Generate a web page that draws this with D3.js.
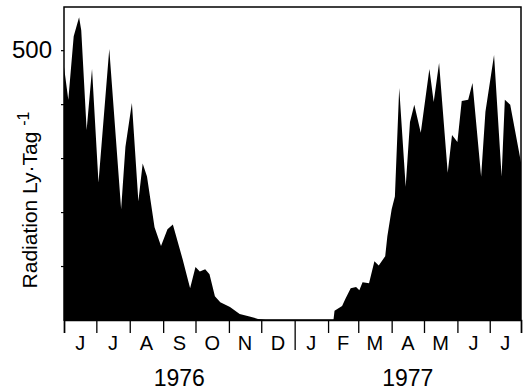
<!DOCTYPE html>
<html>
<head>
<meta charset="utf-8">
<script src="https://cdn.jsdelivr.net/npm/d3@7"></script>
<style>
  body { margin: 0; background: #fff; }
  text { font-family: "Liberation Sans", Arial, sans-serif; fill: #000; }
</style>
</head>
<body>
<div id="chart"></div>
<script>
// daily radiation (Ly / Tag)
const dates = [
  "1976-06-01", "1976-06-05", "1976-06-10", "1976-06-15", "1976-06-17", "1976-06-22",
  "1976-06-27", "1976-07-03", "1976-07-13", "1976-07-24", "1976-07-28", "1976-08-03",
  "1976-08-09", "1976-08-13", "1976-08-17", "1976-08-24", "1976-08-30", "1976-09-05",
  "1976-09-10", "1976-09-19", "1976-09-26", "1976-10-01", "1976-10-05", "1976-10-10",
  "1976-10-14", "1976-10-19", "1976-10-24", "1976-11-02", "1976-11-11", "1976-11-21",
  "1976-11-28", "1976-12-05", "1977-02-06", "1977-02-07", "1977-02-14", "1977-02-17",
  "1977-02-22", "1977-02-27", "1977-03-02", "1977-03-05", "1977-03-11", "1977-03-16",
  "1977-03-20", "1977-03-26", "1977-03-28", "1977-04-01", "1977-04-04", "1977-04-08",
  "1977-04-14", "1977-04-18", "1977-04-22", "1977-04-28", "1977-05-06", "1977-05-10",
  "1977-05-15", "1977-05-23", "1977-05-27", "1977-06-01", "1977-06-05", "1977-06-11",
  "1977-06-15", "1977-06-23", "1977-06-27", "1977-07-05", "1977-07-12", "1977-07-15",
  "1977-07-20", "1977-07-30"
];
const radiation = [
  469, 408, 526, 561, 537, 352,
  465, 255, 502, 205, 321, 402,
  220, 290, 266, 172, 137, 168,
  177, 113, 59, 98, 90, 94,
  85, 44, 33, 24, 11, 6,
  2, 0, 0, 17, 26, 39,
  59, 61, 55, 70, 68, 109,
  101, 118, 155, 205, 229, 430,
  247, 367, 399, 347, 465, 404,
  476, 273, 343, 330, 406, 408,
  439, 266, 386, 491, 266, 408,
  399, 292
];
const monthLabels = ["J", "J", "A", "S", "O", "N", "D", "J", "F", "M", "A", "M", "J", "J"];
const yearLabels = ["1976", "1977"];
const yTicks = [100, 200, 300, 400, 500];
const yLabeled = [500];

const width = 529, height = 390;
const mLeft = 64, mRight = 521, mTop = 7, mBottom = 320;

const parse = d3.timeParse("%Y-%m-%d");
const data = dates.map((d, i) => ({ date: parse(d), value: radiation[i] }));

const start = parse("1976-06-01"), end = parse("1977-07-30");

const svg = d3.select("#chart")
  .append("svg")
  .attr("width", width)
  .attr("height", height);

const x = d3.scaleTime()
  .domain([start, end])
  .range([mLeft, mRight]);

const y = d3.scaleLinear()
  .domain([0, 580])
  .range([mBottom, mTop]);

// filled area
const area = d3.area()
  .x(d => x(d.date))
  .y0(y(0))
  .y1(d => y(d.value));

svg.append("path")
  .datum(data)
  .attr("d", area)
  .attr("fill", "#000");

// frame
svg.append("rect")
  .attr("x", mLeft)
  .attr("y", mTop)
  .attr("width", mRight - mLeft)
  .attr("height", mBottom - mTop)
  .attr("fill", "none")
  .attr("stroke", "#000")
  .attr("stroke-width", 1.5);

// y axis
const yAxis = svg.append("g")
  .attr("transform", "translate(" + mLeft + ",0)")
  .call(d3.axisLeft(y)
    .tickValues(yTicks)
    .tickSize(3)
    .tickPadding(9)
    .tickFormat(d => yLabeled.includes(d) ? d : ""));
yAxis.select(".domain").remove();
yAxis.selectAll("line").attr("stroke-width", 1.2);
yAxis.selectAll("text")
  .style("font-family", "'Liberation Sans', Arial, sans-serif")
  .style("font-size", "24px")
  .attr("fill", "#000");

// x axis: month boundaries
const months = d3.timeMonth.range(start, end);
const xAxis = svg.append("g")
  .attr("transform", "translate(0," + mBottom + ")")
  .call(d3.axisBottom(x)
    .tickValues([...months, end])
    .tickSize(13)
    .tickFormat(""));
xAxis.select(".domain").attr("stroke-width", 1.5);
xAxis.selectAll("line")
  .attr("stroke-width", 1.3)
  .attr("y2", d => d.getMonth() === 0 && d.getDate() === 1 ? 30 : 13);

// month letters centred in each month
svg.append("g")
  .selectAll("text")
  .data(monthLabels)
  .enter()
  .append("text")
  .attr("x", (d, i) => {
    const a = months[i];
    const b = i + 1 < months.length ? months[i + 1] : end;
    return (x(a) + x(b)) / 2;
  })
  .attr("y", 350)
  .attr("text-anchor", "middle")
  .style("font-size", "20px")
  .text(d => d);

// years
const jan = parse("1977-01-01");
const yearBounds = [[start, jan], [jan, end]];
svg.append("g")
  .selectAll("text")
  .data(yearLabels)
  .enter()
  .append("text")
  .attr("x", (d, i) => (x(yearBounds[i][0]) + x(yearBounds[i][1])) / 2)
  .attr("y", 386)
  .attr("text-anchor", "middle")
  .style("font-size", "23px")
  .text(d => d);

// y title
const title = svg.append("text")
  .attr("transform", "translate(37,200) rotate(-90)")
  .attr("text-anchor", "middle")
  .style("font-size", "21px");
title.append("tspan").text("Radiation Ly\u00b7Tag ");
title.append("tspan")
  .attr("dy", -8)
  .style("font-size", "16px")
  .text("-1");
</script>
</body>
</html>
